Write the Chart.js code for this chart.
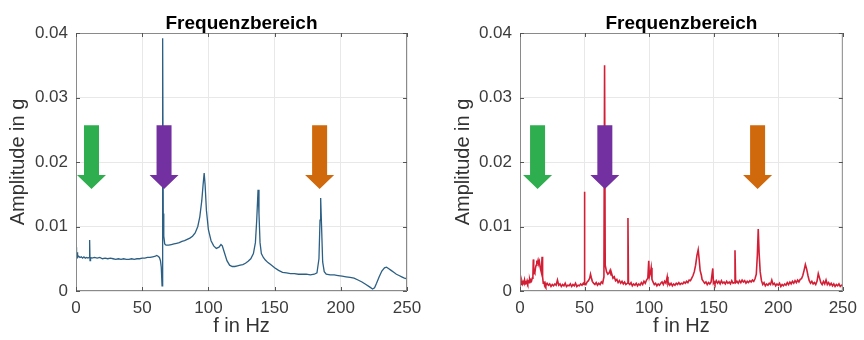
<!DOCTYPE html>
<html>
<head>
<meta charset="utf-8">
<script src="https://cdn.jsdelivr.net/npm/chart.js@4.4.1/dist/chart.umd.min.js"></script>
<style>
  body { margin: 0; background: #fff; }
  .wrap { position: absolute; top: 0; width: 432px; height: 340px; }
</style>
</head>
<body>
<div class="wrap" style="left:0"><canvas id="left" width="432" height="340"></canvas></div>
<div class="wrap" style="left:432px"><canvas id="right" width="432" height="340"></canvas></div>
<script>
// spectrum: [f in Hz, amplitude in g]
const spectrumLeft = [
  [0,0.0068],[0.4,0.0050],[0.8,0.0060],[1.2,0.0052],[2,0.0054],[3,0.0052],[4,0.0053],[5,0.0051],
  [6,0.0053],[7,0.0051],[8,0.0052],[9,0.0051],[10,0.0052],[10.3,0.0079],[10.6,0.0047],[11,0.0052],
  [12,0.0051],[14,0.0052],[16,0.0051],[18,0.0052],[20,0.0050],[22,0.0051],[24,0.0050],[26,0.0051],
  [28,0.0050],[30,0.0049],[32,0.0050],[34,0.0049],[36,0.0050],[38,0.0049],[40,0.0049],[42,0.0050],
  [44,0.0049],[46,0.0050],[48,0.0050],[50,0.0051],[52,0.0051],[54,0.0052],[56,0.0052],[58,0.0053],
  [60,0.0054],[61,0.0055],[62,0.0054],[63,0.0052],[63.8,0.0047],[64.4,0.0037],[65,0.0008],[65.3,0.0020],
  [65.6,0.0392],[65.9,0.0120],[66.3,0.0085],[67,0.0073],[68,0.0071],[70,0.0071],[72,0.0072],[74,0.0073],
  [76,0.0074],[78,0.0075],[80,0.0077],[82,0.0078],[84,0.0080],[86,0.0082],[88,0.0085],[90,0.0090],
  [92,0.0100],[93.5,0.0115],[95,0.0140],[96,0.0165],[96.8,0.0183],[97.5,0.0165],[98.5,0.0125],[100,0.0095],
  [102,0.0078],[104,0.0070],[106,0.0066],[108,0.0068],[109.5,0.0072],[110.5,0.0070],[112,0.0060],[114,0.0047],
  [116,0.0040],[118,0.0038],[120,0.0038],[122,0.0039],[124,0.0040],[126,0.0041],[128,0.0043],[130,0.0046],
  [132,0.0050],[134,0.0058],[135.5,0.0075],[136.5,0.0110],[137.5,0.0157],[138.2,0.0120],[139,0.0075],[140,0.0058],
  [141.5,0.0052],[143,0.0048],[145,0.0044],[147,0.0041],[150,0.0036],[153,0.0032],[156,0.0029],[159,0.0028],
  [162,0.0027],[165,0.0027],[168,0.0026],[171,0.0026],[174,0.0026],[177,0.0025],[180,0.0026],[182,0.0028],
  [183.5,0.0050],[184.3,0.0110],[184.8,0.0144],[185.4,0.0105],[186.3,0.0045],[187.5,0.0030],[189,0.0026],[192,0.0025],
  [195,0.0025],[198,0.0024],[201,0.0023],[204,0.0022],[207,0.0021],[210,0.0020],[213,0.0017],[216,0.0014],
  [219,0.0010],[222,0.0006],[224,0.0003],[225.5,0.0005],[227,0.0012],[229,0.0022],[231,0.0031],[233,0.0036],
  [234.5,0.0037],[236,0.0035],[238,0.0032],[240,0.0029],[242,0.0026],[244,0.0024],[246,0.0022],[248,0.0020],
  [250,0.0019]
];
const spectrumRight = [
  [0,0.0012],[0.5,0.0016],[1,0.0010],[1.5,0.0015],[2,0.0011],[2.5,0.0014],[3,0.0012],[3.5,0.0017],
  [4,0.0011],[4.5,0.0014],[5,0.0013],[5.5,0.0016],[6,0.0012],[6.5,0.0015],[7,0.0013],[7.5,0.0018],
  [8,0.0014],[8.5,0.0017],[9,0.0016],[9.5,0.0020],[10,0.0024],[10.3,0.0049],[10.6,0.0026],[11,0.0030],
  [11.5,0.0028],[12,0.0036],[12.5,0.0040],[13,0.0045],[13.5,0.0044],[14,0.0048],[14.5,0.0043],[15,0.0046],
  [15.5,0.0038],[16,0.0033],[16.5,0.0029],[17.1,0.0053],[17.5,0.0022],[18,0.0012],[18.5,0.0015],[19,0.0009],
  [19.5,0.0012],[20,0.0008],[21,0.0012],[22,0.0009],[23,0.0011],[24,0.0007],[25,0.0010],[26,0.0008],
  [27,0.0011],[28,0.0009],[29,0.0017],[30,0.0009],[31,0.0011],[32,0.0007],[33,0.0010],[34,0.0008],
  [35,0.0012],[36,0.0007],[37,0.0009],[38,0.0008],[39,0.0011],[40,0.0007],[41,0.0010],[42,0.0008],
  [43,0.0012],[44,0.0007],[45,0.0009],[46,0.0008],[47,0.0011],[48,0.0009],[49,0.0012],[49.6,0.0010],
  [49.9,0.0154],[50.2,0.0012],[51,0.0010],[52,0.0014],[53,0.0016],[54,0.0020],[54.6,0.0026],[55.2,0.0021],
  [56,0.0015],[57,0.0012],[58,0.0010],[59,0.0013],[60,0.0009],[61,0.0012],[62,0.0010],[63,0.0014],
  [64,0.0012],[65,0.0022],[65.5,0.0350],[66,0.0040],[67,0.0030],[68,0.0026],[69,0.0028],[69.8,0.0032],
  [70.5,0.0025],[71,0.0027],[72,0.0020],[73,0.0022],[74,0.0016],[75,0.0018],[76,0.0013],[77,0.0016],
  [78,0.0012],[79,0.0015],[80,0.0011],[81,0.0014],[82,0.0010],[83.2,0.0012],[83.6,0.0113],[84,0.0012],
  [85,0.0010],[86,0.0013],[87,0.0008],[88,0.0011],[89,0.0009],[90,0.0012],[91,0.0008],[92,0.0011],
  [93,0.0009],[94,0.0013],[95,0.0010],[96,0.0015],[97,0.0012],[98,0.0017],[99,0.0020],[99.7,0.0047],
  [100.2,0.0022],[101,0.0028],[101.6,0.0036],[102.2,0.0018],[103,0.0014],[104,0.0010],[105,0.0012],[106,0.0008],
  [107,0.0011],[108,0.0009],[109,0.0012],[110,0.0014],[111,0.0010],[112,0.0015],[113,0.0012],[114,0.0022],
  [114.6,0.0011],[115,0.0013],[116,0.0009],[117,0.0012],[118,0.0008],[119,0.0011],[120,0.0009],[121,0.0012],
  [122,0.0010],[123,0.0013],[124,0.0010],[125,0.0012],[126,0.0011],[127,0.0014],[128,0.0012],[129,0.0015],
  [130,0.0013],[131,0.0017],[132,0.0016],[133,0.0020],[134,0.0024],[135,0.0030],[136,0.0040],[137,0.0055],
  [138,0.0064],[138.8,0.0048],[139.5,0.0032],[140.5,0.0024],[141,0.0018],[142,0.0015],[143,0.0012],[144,0.0014],
  [145,0.0010],[146,0.0013],[147,0.0011],[148,0.0014],[149.3,0.0035],[149.8,0.0012],[150.5,0.0014],[151,0.0011],
  [152,0.0016],[153,0.0012],[154,0.0015],[155,0.0011],[156,0.0016],[157,0.0012],[158,0.0014],[159,0.0011],
  [160,0.0015],[161,0.0012],[162,0.0014],[163,0.0011],[164,0.0016],[165,0.0012],[166,0.0013],[166.5,0.0063],
  [167,0.0013],[168,0.0015],[169,0.0012],[170,0.0016],[171,0.0013],[172,0.0017],[173,0.0014],[174,0.0016],
  [175,0.0012],[176,0.0015],[177,0.0013],[178,0.0016],[179,0.0014],[180,0.0017],[181,0.0015],[182,0.0019],
  [183,0.0026],[183.8,0.0055],[184.5,0.0096],[185.2,0.0058],[186,0.0030],[187,0.0016],[188,0.0010],[189,0.0013],
  [190,0.0008],[191,0.0011],[192,0.0009],[193,0.0012],[194,0.0010],[195,0.0017],[196,0.0010],[197,0.0012],
  [198,0.0008],[199,0.0011],[200,0.0009],[201,0.0012],[202,0.0007],[203,0.0010],[204,0.0008],[205,0.0011],
  [206,0.0009],[207,0.0013],[208,0.0010],[209,0.0014],[210,0.0011],[211,0.0015],[212,0.0012],[213,0.0016],
  [214,0.0013],[215,0.0017],[216,0.0014],[217,0.0018],[218,0.0019],[219,0.0024],[220,0.0032],[221,0.0041],
  [222,0.0034],[223,0.0024],[224,0.0016],[225,0.0012],[226,0.0015],[227,0.0011],[228,0.0013],[229,0.0010],
  [230,0.0015],[231,0.0027],[232,0.0020],[233,0.0013],[234,0.0010],[235,0.0015],[236,0.0011],[237,0.0017],
  [238,0.0010],[239,0.0013],[240,0.0009],[241,0.0012],[242,0.0008],[243,0.0011],[244,0.0007],[245,0.0010],
  [246,0.0008],[247,0.0011],[248,0.0007],[249,0.0009],[250,0.0008]
];
const xTicks = [0, 50, 100, 150, 200, 250];
const yTicks = [0, 0.01, 0.02, 0.03, 0.04];
const arrowFreqLeft = [11.7, 66.5, 184];
const arrowFreqRight = [13.6, 65.7, 184];
const arrowColors = ['#2eae4e', '#7230a0', '#d0680c'];

const FONT = "'Liberation Sans', Arial, Helvetica, sans-serif";

// box around the plot + MATLAB style inward ticks
const framePlugin = {
  id: 'frame',
  afterDatasetsDraw(chart) {
    const { ctx, chartArea: a, scales: { x, y } } = chart;
    ctx.save();
    ctx.strokeStyle = '#8a8a8a'; ctx.lineWidth = 1;
    ctx.strokeRect(a.left + 0.5, a.top + 0.5, a.right - a.left - 1, a.bottom - a.top - 1);
    ctx.strokeStyle = '#555';
    ctx.beginPath();
    xTicks.forEach(v => {
      const px = Math.round(x.getPixelForValue(v)) + 0.5;
      ctx.moveTo(px, a.bottom); ctx.lineTo(px, a.bottom - 4);
      ctx.moveTo(px, a.top); ctx.lineTo(px, a.top + 4);
    });
    yTicks.forEach(v => {
      const py = Math.round(y.getPixelForValue(v)) + 0.5;
      ctx.moveTo(a.left, py); ctx.lineTo(a.left + 4, py);
      ctx.moveTo(a.right, py); ctx.lineTo(a.right - 4, py);
    });
    ctx.stroke();
    ctx.restore();
  }
};

const arrowPlugin = {
  id: 'arrows',
  afterDatasetsDraw(chart, args, opts) {
    const { ctx, scales: { x, y } } = chart;
    const top = y.getPixelForValue(0.0257), neck = y.getPixelForValue(0.018), tip = y.getPixelForValue(0.0158);
    opts.freqs.forEach((f, i) => {
      const cx = x.getPixelForValue(f);
      ctx.save();
      ctx.fillStyle = arrowColors[i];
      ctx.beginPath();
      ctx.moveTo(cx - 7.5, top); ctx.lineTo(cx + 7.5, top); ctx.lineTo(cx + 7.5, neck);
      ctx.lineTo(cx + 14.5, neck); ctx.lineTo(cx, tip); ctx.lineTo(cx - 14.5, neck);
      ctx.lineTo(cx - 7.5, neck); ctx.closePath(); ctx.fill();
      ctx.restore();
    });
  }
};

function makeChart(id, points, color, lineWidth, freqs, yWidth, rightPad, yTitlePad) {
  return new Chart(document.getElementById(id), {
    type: 'line',
    data: { datasets: [{ data: points.map(p => ({ x: p[0], y: p[1] })), borderColor: color, borderWidth: lineWidth, pointRadius: 0, tension: 0, fill: false }] },
    options: {
      responsive: false, animation: false,
      layout: { padding: { left: 0, right: rightPad, top: 0, bottom: 0 } },
      plugins: {
        legend: { display: false }, tooltip: { enabled: false },
        title: { display: true, fullSize: false, text: 'Frequenzbereich', color: '#000', font: { family: FONT, size: 19, weight: 'bold', lineHeight: 1 }, padding: { top: 14.5, bottom: -0.5 } },
        arrows: { freqs }
      },
      scales: {
        x: {
          type: 'linear', min: 0, max: 250,
          afterBuildTicks: s => { s.ticks = xTicks.map(v => ({ value: v })); },
          afterFit: s => { s.height = 49; },
          grid: { color: '#e8e8e8', drawTicks: false }, border: { display: false },
          ticks: { color: '#3c3c3c', font: { family: FONT, size: 17 }, padding: 7, maxRotation: 0 },
          title: { display: true, text: 'f in Hz', color: '#333', font: { family: FONT, size: 20, lineHeight: 1.2 }, padding: { top: 0, bottom: 2 } }
        },
        y: {
          type: 'linear', min: 0, max: 0.04,
          afterBuildTicks: s => { s.ticks = yTicks.map(v => ({ value: v })); },
          afterFit: s => { s.width = yWidth; },
          grid: { color: '#e8e8e8', drawTicks: false }, border: { display: false },
          ticks: { color: '#3c3c3c', font: { family: FONT, size: 17 }, padding: 8, callback: v => v === 0 ? '0' : v.toFixed(2) },
          title: { display: true, text: 'Amplitude in g', color: '#333', font: { family: FONT, size: 20, lineHeight: 1.2 }, padding: { top: yTitlePad, bottom: 0 } }
        }
      }
    },
    plugins: [framePlugin, arrowPlugin]
  });
}

makeChart('left', spectrumLeft, '#2b5f84', 1.3, arrowFreqLeft, 76, 25, 6);
makeChart('right', spectrumRight, '#d21f36', 1.6, arrowFreqRight, 88, 13, 19.5);
</script>
</body>
</html>
